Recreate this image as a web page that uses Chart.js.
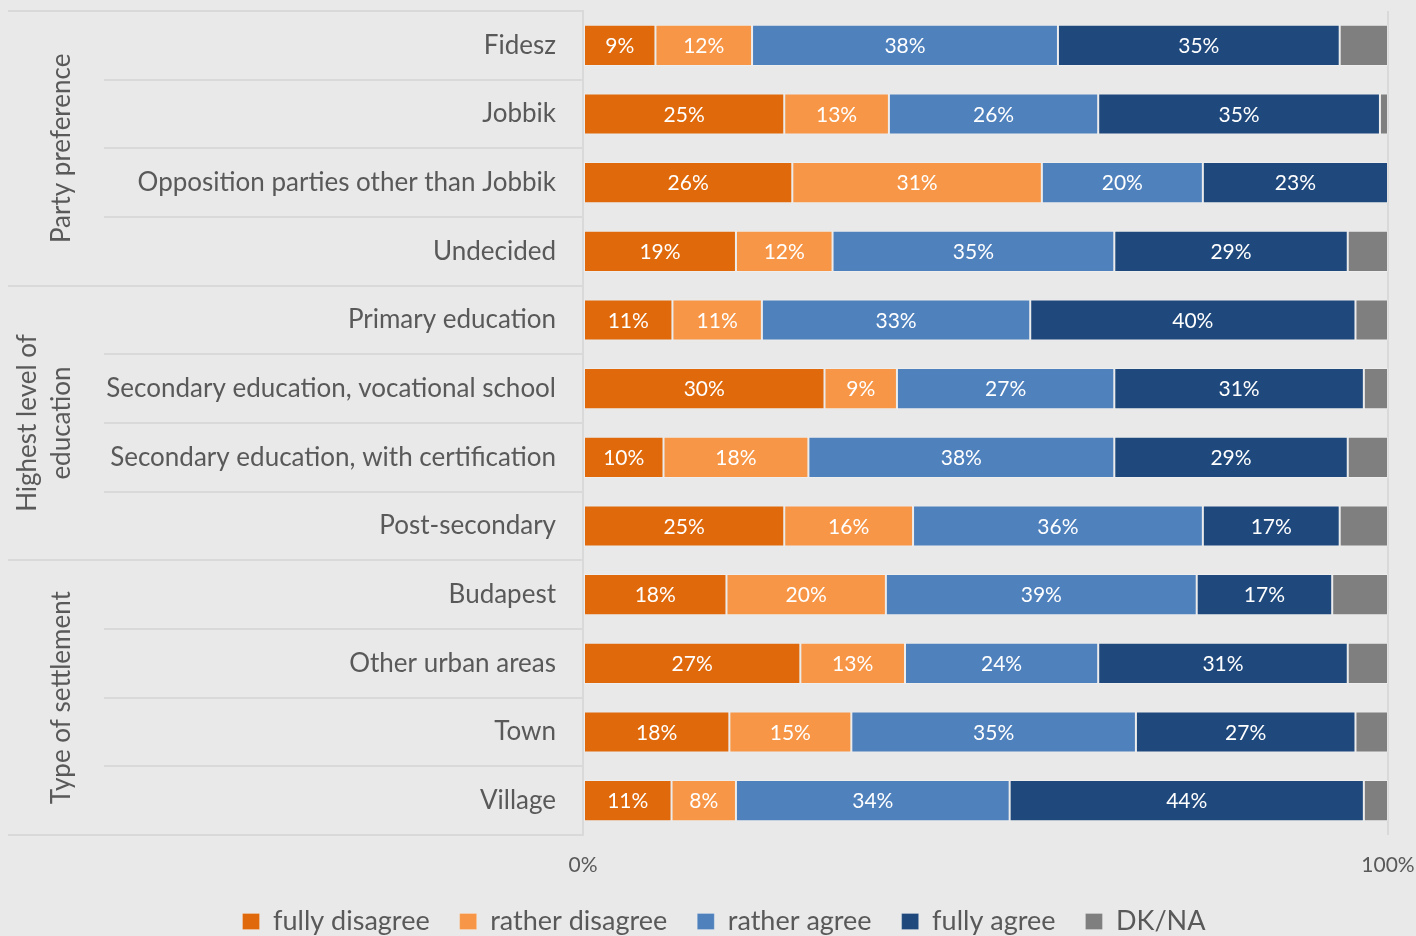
<!DOCTYPE html>
<html>
<head>
<meta charset="utf-8">
<script src="https://cdn.jsdelivr.net/npm/chart.js@4.4.0/dist/chart.umd.min.js"></script>
<style>
  html, body { margin: 0; padding: 0; background: #e9e9e9; overflow: hidden; }
  /* the legend row sits on the lower edge, so the canvas runs a little past the window */
  #wrap { width: 1416px; height: 945px; position: relative; }
</style>
</head>
<body>
<div id="wrap"><canvas id="agreeChart"></canvas></div>
<script>
// Categories (top to bottom) and their grouping on the left
const categories = [
  'Fidesz', 'Jobbik', 'Opposition parties other than Jobbik', 'Undecided',
  'Primary education', 'Secondary education, vocational school',
  'Secondary education, with certification', 'Post-secondary',
  'Budapest', 'Other urban areas', 'Town', 'Village'
];
const groupLabels = [['Party preference'], ['Highest level of', 'education'], ['Type of settlement']];
const groupSizes = [4, 4, 4];

// Answer shares in percent
const fullyDisagree  = [9, 25, 26, 19, 11, 30, 10, 25, 18, 27, 18, 11];
const ratherDisagree = [12, 13, 31, 12, 11, 9, 18, 16, 20, 13, 15, 8];
const ratherAgree    = [38, 26, 20, 35, 33, 27, 38, 36, 39, 24, 35, 34];
const fullyAgree     = [35, 35, 23, 29, 40, 31, 29, 17, 17, 31, 27, 44];
const dkNa           = [6, 1, 0, 5, 4, 3, 5, 6, 7, 5, 4, 3];

const xTicks = [0, 100];

const TEXT = '#595959';
const LINE = '#d9d9d9';
const FONT = 'Lato, "Open Sans", sans-serif';

// 100% stacked: every row is scaled to its own total
const totals = categories.map((_, i) =>
  fullyDisagree[i] + ratherDisagree[i] + ratherAgree[i] + fullyAgree[i] + dkNa[i]);
const share = arr => arr.map((v, i) => v / totals[i] * 100);

const series = [
  { label: 'fully disagree',  raw: fullyDisagree,  color: '#e06a0b', showValue: true },
  { label: 'rather disagree', raw: ratherDisagree, color: '#f79646', showValue: true },
  { label: 'rather agree',    raw: ratherAgree,    color: '#4f81bd', showValue: true },
  { label: 'fully agree',     raw: fullyAgree,     color: '#1f497d', showValue: true },
  { label: 'DK/NA',           raw: dkNa,           color: '#7f7f7f', showValue: false }
];

// white value labels in the middle of each segment
const valueLabels = {
  id: 'valueLabels',
  afterDatasetsDraw(chart) {
    const ctx = chart.ctx;
    ctx.save();
    ctx.fillStyle = '#ffffff';
    ctx.font = '21px ' + FONT;
    ctx.textAlign = 'center';
    ctx.textBaseline = 'middle';
    chart.data.datasets.forEach((ds, di) => {
      if (!ds.showValue) return;
      chart.getDatasetMeta(di).data.forEach((bar, i) => {
        const v = ds.raw[i];
        if (!v) return;
        ctx.fillText(v + '%', (bar.x + bar.base) / 2, bar.y + 1);
      });
    });
    ctx.restore();
  }
};

// separator lines and group titles in the label area
const groupAxis = {
  id: 'groupAxis',
  afterLayout(chart) {
    // legend row is centred a bit right of the canvas middle
    chart.legend.left += 30;
    chart.legend.right += 30;
  },
  afterDraw(chart) {
    const ctx = chart.ctx;
    const area = chart.chartArea;
    const n = categories.length;
    const step = (area.bottom - area.top) / n;
    const groupEdges = [0];
    groupSizes.forEach(s => groupEdges.push(groupEdges[groupEdges.length - 1] + s));

    ctx.save();
    ctx.strokeStyle = LINE;
    ctx.lineWidth = 2;
    for (let i = 0; i <= n; i++) {
      const y = Math.round(area.top + i * step);
      const x0 = groupEdges.includes(i) ? 8 : 104;
      ctx.beginPath();
      ctx.moveTo(x0, y);
      ctx.lineTo(area.left, y);
      ctx.stroke();
    }

    ctx.fillStyle = TEXT;
    ctx.font = '26px ' + FONT;
    ctx.textAlign = 'center';
    ctx.textBaseline = 'middle';
    groupLabels.forEach((lines, g) => {
      const yMid = area.top + (groupEdges[g] + groupEdges[g + 1]) / 2 * step;
      lines.forEach((line, k) => {
        const x = 62 - (lines.length - 1 - k) * 34;
        ctx.save();
        ctx.translate(x, yMid);
        ctx.rotate(-Math.PI / 2);
        ctx.fillText(line, 0, 0);
        ctx.restore();
      });
    });
    ctx.restore();
  }
};

const ctx = document.getElementById('agreeChart').getContext('2d');

new Chart(ctx, {
  type: 'bar',
  data: {
    labels: categories,
    datasets: series.map(s => ({
      label: s.label,
      data: share(s.raw),
      raw: s.raw,
      showValue: s.showValue,
      backgroundColor: s.color,
      borderColor: 'rgba(255,255,255,0.22)',
      borderWidth: 1,
      borderSkipped: false,
      categoryPercentage: 1,
      barPercentage: 0.6
    }))
  },
  options: {
    indexAxis: 'y',
    responsive: true,
    maintainAspectRatio: false,
    animation: false,
    layout: { padding: { top: 11, right: 28, bottom: 0, left: 0 } },
    scales: {
      x: {
        stacked: true,
        min: 0,
        max: 100,
        afterBuildTicks: scale => { scale.ticks = xTicks.map(v => ({ value: v })); },
        afterFit: scale => {
          scale.height = 43;
          scale.paddingLeft = 0;
          scale.paddingRight = 0;
        },
        grid: {
          drawTicks: false,
          color: c => (c.tick && c.tick.value === 100 ? LINE : 'rgba(0,0,0,0)'),
          lineWidth: 2
        },
        border: { display: false },
        ticks: {
          padding: 18,
          color: TEXT,
          font: { family: FONT, size: 21 },
          callback: v => v + '%'
        }
      },
      y: {
        stacked: true,
        afterFit: scale => {
          scale.width = 583;
          scale.paddingTop = 0;
          scale.paddingBottom = 0;
        },
        grid: { display: false, drawTicks: false },
        border: { display: true, color: LINE, width: 2 },
        ticks: {
          padding: 27,
          color: TEXT,
          font: { family: FONT, size: 26 }
        }
      }
    },
    plugins: {
      legend: {
        position: 'bottom',
        labels: {
          boxWidth: 17,
          boxHeight: 16,
          padding: 30,
          color: TEXT,
          font: { family: FONT, size: 27 }
        }
      },
      tooltip: { enabled: false }
    }
  },
  plugins: [valueLabels, groupAxis]
});
</script>
</body>
</html>
